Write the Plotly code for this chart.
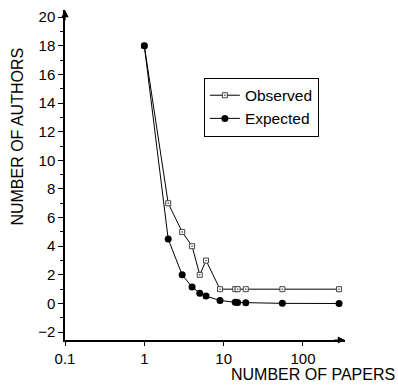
import plotly.graph_objects as go

papers = [1, 2, 3, 4, 5, 6, 9, 14, 15, 19, 55, 285]
observed = [18, 7, 5, 4, 2, 3, 1, 1, 1, 1, 1, 1]
expected = [18, 4.5, 2.0, 1.15, 0.72, 0.52, 0.21, 0.08, 0.07, 0.06, 0.01, 0.0]

FONT = "Liberation Sans, Arial, sans-serif"

fig = go.Figure()
fig.add_trace(go.Scatter(
    x=papers, y=observed, name="Observed", mode="lines+markers",
    line=dict(color="black", width=1),
    marker=dict(symbol="square-dot", size=5, color="white",
                line=dict(color="#444444", width=1)),
))
fig.add_trace(go.Scatter(
    x=papers, y=expected, name="Expected", mode="lines+markers",
    line=dict(color="black", width=1),
    marker=dict(symbol="circle", size=7, color="black"),
))

fig.update_layout(
    width=398, height=387,
    margin=dict(l=65, r=53, t=8, b=47),
    paper_bgcolor="white", plot_bgcolor="white",
    font=dict(family=FONT, color="black", size=15),
    showlegend=True,
    legend=dict(x=0.496, y=0.795, xanchor="left", yanchor="top",
                bordercolor="black", borderwidth=1, bgcolor="white",
                font=dict(size=15.5, family=FONT), tracegroupgap=0,
                itemwidth=30),
    xaxis=dict(type="log", range=[-1, 2.53], showgrid=False, zeroline=False,
               showline=True, linecolor="black", linewidth=1.5,
               ticks="outside", ticklen=4, tickcolor="black",
               tickvals=[0.1, 1, 10, 100], ticktext=["0.1", "1", "10", "100"],
               tickfont=dict(size=15)),
    yaxis=dict(range=[-2.55, 20.5], showgrid=False, zeroline=False,
               showline=True, linecolor="black", linewidth=1.5,
               ticks="outside", ticklen=5, tickcolor="black",
               tickvals=list(range(-2, 21, 2)), tickfont=dict(size=15),
               minor=dict(dtick=1, ticks="outside", ticklen=3, tickcolor="black")),
    annotations=[
        dict(xref="paper", yref="paper", x=1.0, y=0, ax=-12, ay=0,
             showarrow=True, arrowhead=2, arrowsize=1.2, arrowwidth=1.2,
             arrowcolor="black", text=""),
        dict(xref="paper", yref="paper", x=0, y=1.0, ax=0, ay=12,
             showarrow=True, arrowhead=2, arrowsize=1.2, arrowwidth=1.2,
             arrowcolor="black", text=""),
        dict(xref="paper", yref="paper", x=1.185, y=-0.105, xanchor="right",
             yanchor="middle", showarrow=False, text="NUMBER OF PAPERS",
             font=dict(size=16, family=FONT)),
        dict(xref="paper", yref="paper", x=-0.173, y=0.615, xanchor="center",
             yanchor="middle", showarrow=False, text="NUMBER OF AUTHORS",
             textangle=-90, font=dict(size=16, family=FONT)),
    ],
)

fig.write_html("out.html")
